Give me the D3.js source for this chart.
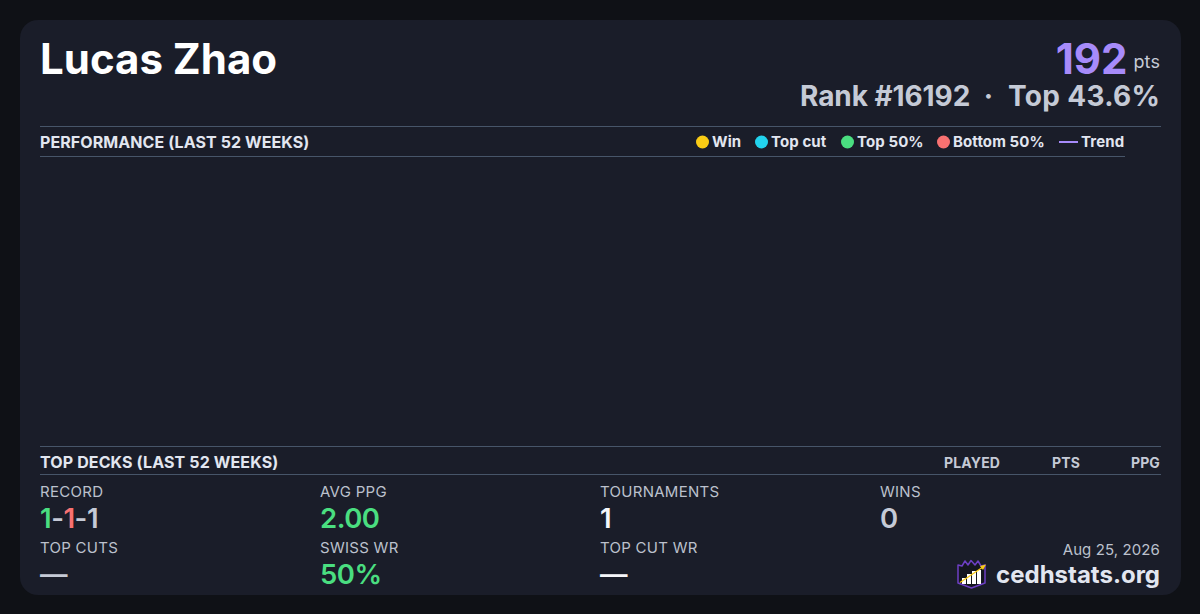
<!DOCTYPE html>
<html><head><meta charset="utf-8">
<script src="https://cdn.jsdelivr.net/npm/d3@7"></script>
<style>html,body{margin:0;background:#0f1116;overflow:hidden}svg{display:block}text{font-family:Inter,sans-serif}</style>
</head><body><svg id="c" width="1200" height="614"></svg>
<script>
const playerName = "Lucas Zhao";
const points = 192;
const rankParts = ["Rank #16192","·","Top 43.6%"];
const rankX = [800,988.5,1008];
const rankAnchor = ["start","middle","start"];
const rankSpacing = [-0.08,0,0.3];
const legendLabels = ["Win","Top cut","Top 50%","Bottom 50%","Trend"];
const legendColors = ["#facc15","#22d3ee","#4ade80","#f87171","#a78bfa"];
const legendX = [696,755,841,937,1059];
const deckCols = ["PLAYED","PTS","PPG"];
const deckColX = [1000,1080,1160];
const statLabels = ["RECORD","AVG PPG","TOURNAMENTS","WINS","TOP CUTS","SWISS WR","TOP CUT WR"];
const statValues = [null,"2.00","1","0","—","50%","—"];
const statColors = [null,"#4ade80","#f5f6fa","#c5cad6","#c5cad6","#4ade80","#f5f6fa"];
const statX = [40,320,600,880,40,320,600];
const statRow = [0,0,0,0,1,1,1];
const recordParts = ["1","-","1","-","1"];
const recordColors = ["#4ade80","#c5cad6","#f87171","#c5cad6","#c5cad6"];
const rows = [491.5,547.5], valRows = [518,574];
const svg = d3.select("#c");
svg.append("rect").attr("x",20).attr("y",20).attr("width",1161).attr("height",575).attr("rx",18).attr("fill","#1a1d29");
const T=(x,y,s,size,weight,fill,anchor="start",ls=0)=>svg.append("text").attr("x",x).attr("y",y).text(s).attr("font-size",size).attr("font-weight",weight).attr("fill",fill).attr("text-anchor",anchor).attr("dominant-baseline","central").style("white-space","pre").style("letter-spacing",ls+"px");
T(40,58,playerName,42,700,"#ffffff");
T(1127.5,58,String(points),42,700,"#a78bfa","end");
T(1160,61,"pts",18,400,"#c5cad6","end",0.1);
rankParts.forEach((s,i)=>T(rankX[i],96,s,28,700,"#c5cad6",rankAnchor[i],rankSpacing[i]));
[[40,1161,126.5],[40,1125,156.5],[40,1161,446.5],[40,1161,474.5]].forEach(l=>svg.append("line").attr("x1",l[0]).attr("x2",l[1]).attr("y1",l[2]).attr("y2",l[2]).attr("stroke","#475569"));
T(40,142,"PERFORMANCE (LAST 52 WEEKS)",16,700,"#e2e6f0","start",0.08);
T(40,462,"TOP DECKS (LAST 52 WEEKS)",16,700,"#e2e6f0","start",0.12);
legendLabels.forEach((s,i)=>{
  const x=legendX[i];
  if(s==="Trend"){svg.append("line").attr("x1",x).attr("x2",x+19).attr("y1",142).attr("y2",142).attr("stroke",legendColors[i]).attr("stroke-width",2);T(x+22,141.5,s,15,700,"#e2e6f0","start",0.15);}
  else{svg.append("circle").attr("cx",x+6.5).attr("cy",142).attr("r",6.5).attr("fill",legendColors[i]);T(x+16,141.5,s,15,700,"#e2e6f0","start",0.1);}
});
deckCols.forEach((s,i)=>T(deckColX[i],462,s,14,700,"#c5cad6","end",0.12));
statLabels.forEach((s,i)=>{
  T(statX[i],rows[statRow[i]],s,15,400,"#bcc1cd","start",0.28);
  if(statValues[i]!==null)T(statX[i],valRows[statRow[i]],statValues[i],27.5,600,statColors[i],"start",-0.5);
});
const rec=svg.append("text").attr("x",40).attr("y",518).attr("font-size",27.5).attr("font-weight",600).attr("dominant-baseline","central").style("letter-spacing","-0.5px");
rec.selectAll("tspan").data(recordParts).join("tspan").text(d=>d).attr("fill",(d,i)=>recordColors[i]);
T(1160,549,"Aug 25, 2026",15,400,"#bcc1cd","end",0.1);
T(1160,574,"cedhstats.org",24,700,"#e2e6f0","end");
const logo=svg.append("g");
logo.append("path").attr("d","M958 565 L962 566 L965 561 L968 565 L971 560.5 L975 565 L978 561 L981 566 L985 565 L985 583 L971.5 588 L958 583 Z").attr("fill","#14161f").attr("stroke","#6d3fc4").attr("stroke-width",1.5).attr("stroke-linejoin","round");
const barX=[962,967,972,977], barH=[6,10,13,14];
barX.forEach((x,i)=>logo.append("rect").attr("x",x).attr("y",584-barH[i]).attr("width",4).attr("height",barH[i]).attr("fill","#fff"));
logo.append("line").attr("x1",960).attr("y1",582.5).attr("x2",983).attr("y2",567).attr("stroke","#facc15").attr("stroke-width",1.3);
logo.append("path").attr("d","M986 564.5 L980 566 L983 570 Z").attr("fill","#facc15");
</script></body></html>
